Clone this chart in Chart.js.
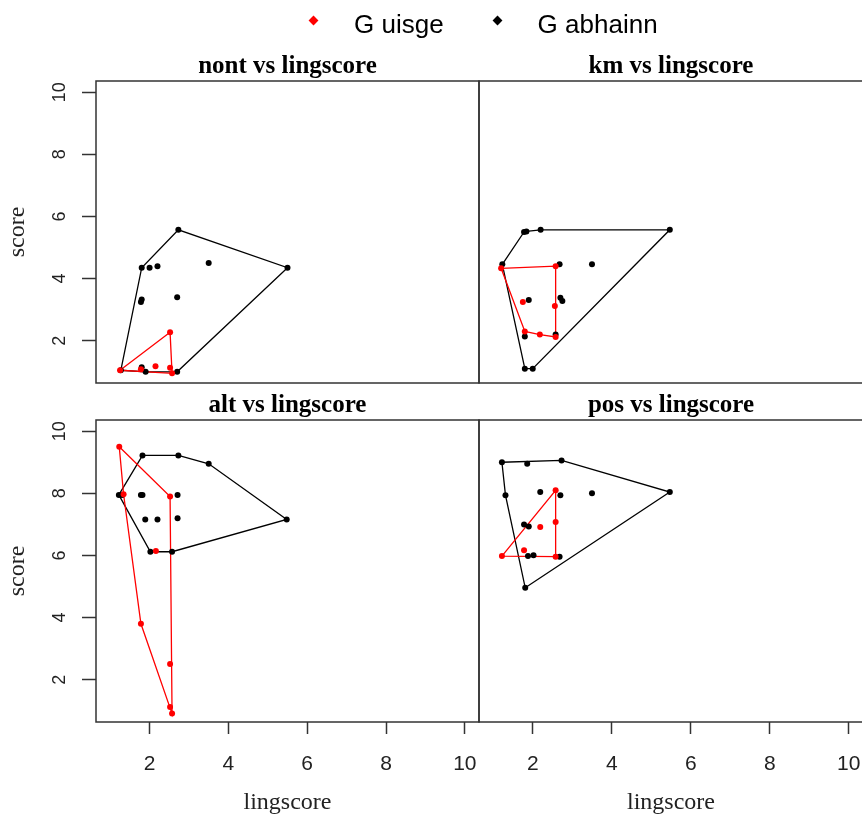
<!DOCTYPE html>
<html>
<head>
<meta charset="utf-8">
<script src="https://cdn.jsdelivr.net/npm/chart.js@4.4.1/dist/chart.umd.min.js"></script>
<style>
  html, body { margin: 0; padding: 0; background: #fff; overflow: hidden; }
  #page { position: relative; width: 862px; height: 817px; overflow: hidden; }
  canvas { position: absolute; }
  #legend { position: absolute; left: 310px; top: 4px; height: 40px; z-index: 2;
            display: flex; align-items: center; white-space: nowrap; color: #000;
            font: 26px "Liberation Sans", Arial, sans-serif; }
  #legend .item { display: flex; align-items: center; margin-right: 50px; }
  #legend .key { width: 7px; height: 7px; margin-right: 37px; position: relative; top: -4px;
                 transform: rotate(45deg); }
</style>
</head>
<body>
<div id="page">
  <canvas id="nont" width="480" height="386" style="left:0;top:0"></canvas>
  <canvas id="km" width="387" height="386" style="left:478px;top:0"></canvas>
  <canvas id="alt" width="480" height="431" style="left:0;top:386px"></canvas>
  <canvas id="pos" width="387" height="431" style="left:478px;top:386px"></canvas>
  <div id="legend"></div>
</div>
<script>
// --- DATA ---
var groups = ['G uisge', 'G abhainn'];
var groupColors = ['#ff0000', '#000000'];
var xTicks = [2, 4, 6, 8, 10];
var yTicks = [2, 4, 6, 8, 10];
var limits = [0.64, 10.36];   // same range on both axes of every panel

// [lingscore, score] pairs
var nontUisge = [[1.25, 1.05], [2.52, 2.27], [2.15, 1.18], [2.52, 1.13], [2.57, 0.95], [1.78, 1.08]];
var nontAbhainn = [[2.73, 5.57], [5.5, 4.35], [1.8, 4.35], [2.0, 4.35], [2.2, 4.4], [3.5, 4.5],
  [1.8, 3.33], [1.78, 3.25], [2.7, 3.4], [1.27, 1.05], [1.8, 1.15], [1.9, 1.0], [2.7, 1.0]];

var kmUisge = [[1.2, 4.33], [2.58, 4.4], [1.75, 3.25], [2.56, 3.12], [1.8, 2.3], [2.18, 2.2], [2.58, 2.12]];
var kmAbhainn = [[1.78, 5.5], [1.84, 5.52], [2.2, 5.57], [5.47, 5.57], [1.23, 4.46], [2.68, 4.46],
  [3.5, 4.46], [1.9, 3.31], [2.7, 3.38], [2.75, 3.28], [1.8, 2.14], [2.58, 2.2], [1.8, 1.1], [2.0, 1.1]];

var altUisge = [[1.23, 9.5], [1.34, 7.97], [2.52, 7.9], [2.16, 6.14], [1.78, 3.8], [2.52, 2.51],
  [2.52, 1.12], [2.57, 0.91]];
var altAbhainn = [[1.82, 9.22], [2.73, 9.22], [3.5, 8.95], [5.48, 7.16], [1.22, 7.95], [1.3, 7.95],
  [1.78, 7.95], [1.82, 7.95], [2.71, 7.95], [1.89, 7.16], [2.2, 7.16], [2.71, 7.2], [2.02, 6.12], [2.57, 6.12]];

var posUisge = [[1.22, 5.98], [2.58, 8.1], [2.58, 7.08], [2.19, 6.92], [1.78, 6.17], [2.58, 5.96]];
var posAbhainn = [[1.22, 9.0], [1.86, 8.95], [2.73, 9.06], [5.47, 8.04], [1.31, 7.94], [2.19, 8.04],
  [2.7, 7.94], [3.5, 8.0], [1.78, 7.0], [1.9, 6.93], [1.88, 5.98], [2.02, 6.01], [2.68, 5.96], [1.81, 4.96]];

// convex hull (monotone chain), closed so the line ends where it starts
function hull(pts) {
  var p = pts.slice().sort(function (a, b) { return a[0] - b[0] || a[1] - b[1]; });
  function cross(o, a, b) { return (a[0] - o[0]) * (b[1] - o[1]) - (a[1] - o[1]) * (b[0] - o[0]); }
  var lower = [], upper = [];
  p.forEach(function (pt) {
    while (lower.length >= 2 && cross(lower[lower.length - 2], lower[lower.length - 1], pt) <= 0) lower.pop();
    lower.push(pt);
  });
  p.slice().reverse().forEach(function (pt) {
    while (upper.length >= 2 && cross(upper[upper.length - 2], upper[upper.length - 1], pt) <= 0) upper.pop();
    upper.push(pt);
  });
  lower.pop(); upper.pop();
  var ring = lower.concat(upper);
  ring.push(ring[0]);
  return ring;
}

function toXY(pairs) {
  return pairs.map(function (p) { return { x: p[0], y: p[1] }; });
}

// box round each panel, like the lattice strip frame
var panelFrame = {
  id: 'panelFrame',
  beforeDatasetsDraw: function (chart) {
    var a = chart.chartArea, ctx = chart.ctx;
    ctx.save();
    ctx.strokeStyle = '#333';
    ctx.lineWidth = 1.5;
    ctx.strokeRect(a.left, a.top, a.right - a.left, a.bottom - a.top);
    ctx.restore();
  }
};

function panel(id, name, uisge, abhainn, showX, showY, pad) {
  var series = [uisge, abhainn];
  // point sets first so they end up on top of the outlines
  var points = series.map(function (pts, i) {
    return {
      label: groups[i], data: toXY(pts), showLine: false,
      pointRadius: 3, pointBorderWidth: 0,
      pointBackgroundColor: groupColors[i], pointBorderColor: groupColors[i]
    };
  });
  var outlines = series.map(function (pts, i) {
    return {
      label: groups[i] + ' hull', data: toXY(hull(pts)), showLine: true,
      borderColor: groupColors[i], borderWidth: 1.3, pointRadius: 0, fill: false, tension: 0
    };
  });

  return new Chart(document.getElementById(id), {
    type: 'scatter',
    data: { datasets: points.concat(outlines) },
    plugins: [panelFrame],
    options: {
      responsive: false,
      animation: false,
      events: [],
      layout: { padding: pad, autoPadding: false },   // panels must butt against each other exactly
      plugins: {
        legend: { display: false },
        tooltip: { enabled: false },
        title: {
          display: true, text: name + ' vs lingscore', fullSize: false, color: '#000',
          padding: { top: 3, bottom: 0 },
          font: { family: 'Liberation Serif', size: 25, weight: 'bold', lineHeight: 1.16 }
        }
      },
      scales: {
        x: {
          type: 'linear', min: limits[0], max: limits[1], bounds: 'data', display: showX,
          afterBuildTicks: function (s) { s.ticks = xTicks.map(function (v) { return { value: v }; }); },
          afterFit: function (s) {
            if (!showX) return;
            s.height = 95; s.paddingLeft = 0; s.paddingRight = 0;
          },
          border: { display: false },
          grid: { drawOnChartArea: false, tickLength: 12, tickColor: '#333', tickWidth: 1.5 },
          ticks: { color: '#222', padding: 18, maxRotation: 0, autoSkip: false,
                   font: { family: 'Liberation Sans', size: 21 } },
          title: { display: true, text: 'lingscore', color: '#222', padding: { top: 0, bottom: 0 },
                   font: { family: 'Liberation Serif', size: 24, lineHeight: 1.2 } }
        },
        y: {
          type: 'linear', min: limits[0], max: limits[1], bounds: 'data', display: showY,
          afterBuildTicks: function (s) { s.ticks = yTicks.map(function (v) { return { value: v }; }); },
          afterFit: function (s) {
            if (!showY) return;
            s.width = 96; s.paddingTop = 0; s.paddingBottom = 0;
          },
          border: { display: false },
          grid: { drawOnChartArea: false, tickLength: 14, tickColor: '#333', tickWidth: 1.5 },
          ticks: { color: '#222', padding: 12, minRotation: 90, maxRotation: 90, crossAlign: 'center',
                   autoSkip: false, font: { family: 'Liberation Sans', size: 18 } },
          title: { display: true, text: 'score', color: '#222', padding: { top: 3, bottom: 0 },
                   font: { family: 'Liberation Serif', size: 24, lineHeight: 1.2 } }
        }
      }
    }
  });
}

panel('nont', 'nont', nontUisge, nontAbhainn, false, true, { top: 49, right: 1, bottom: 3, left: 0 });
panel('km', 'km', kmUisge, kmAbhainn, false, false, { top: 49, right: 2, bottom: 3, left: 1 });
panel('alt', 'alt', altUisge, altAbhainn, true, true, { top: 2, right: 1, bottom: 0, left: 0 });
panel('pos', 'pos', posUisge, posAbhainn, true, false, { top: 2, right: 2, bottom: 0, left: 1 });

// --- LEGEND --- one diamond key + name per group, centred over the panels
var legend = document.getElementById('legend');
groups.forEach(function (name, i) {
  var item = document.createElement('span');
  item.className = 'item';
  var key = document.createElement('span');
  key.className = 'key';
  key.style.background = groupColors[i];
  item.appendChild(key);
  item.appendChild(document.createTextNode(name));
  legend.appendChild(item);
});
</script>
</body>
</html>
